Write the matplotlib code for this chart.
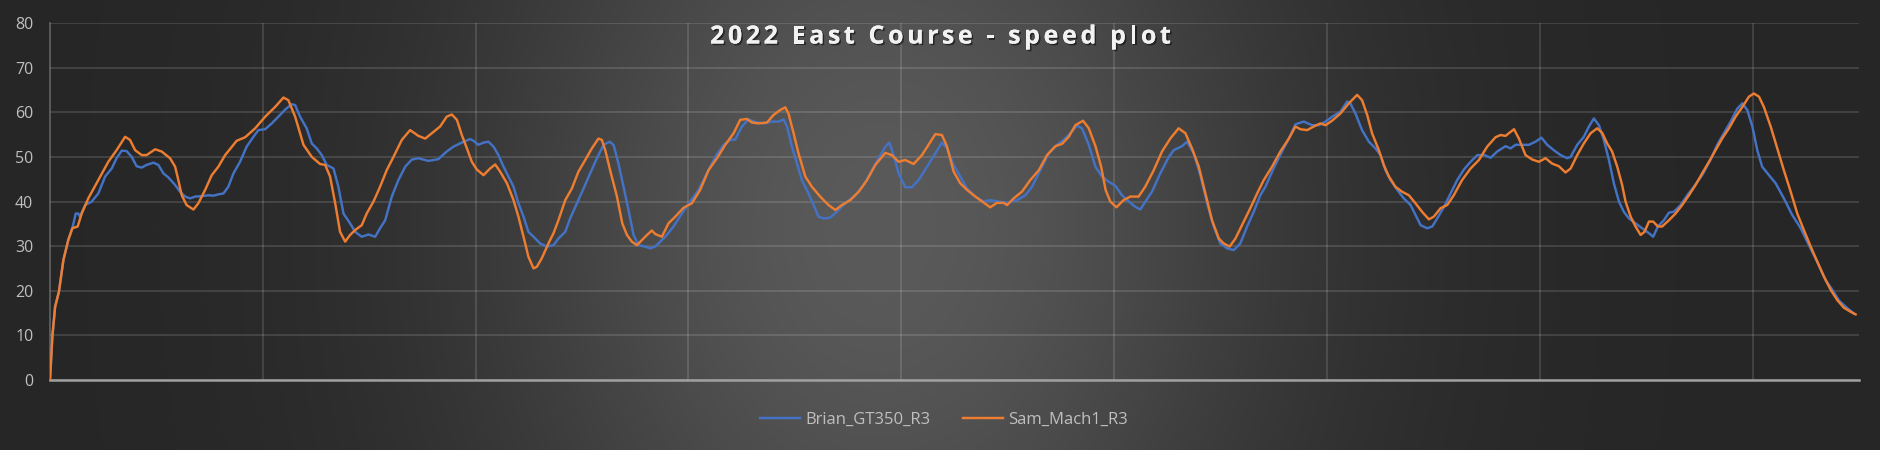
import numpy as np
import matplotlib
matplotlib.use("Agg")
import matplotlib.pyplot as plt
import matplotlib.patheffects as pe
from matplotlib.font_manager import FontProperties

# distance (sample index) and speed
sam_x = [0, 1.1, 2.4, 4.2, 6.3, 8.6, 10.5, 13.0, 14.9, 18.0, 22.7, 27.4, 31.3, 35.3, 37.6, 40.0, 43.1, 45.4,
         49.4, 52.5, 56.4, 58.8, 60.3, 61.9, 64.2, 67.4, 69.7, 72.9, 76.0, 79.1, 82.3, 87.7, 91.7, 96.4, 101.1,
         105.8, 109.7, 112.0, 115.2, 119.1, 123.0, 126.9, 129.3, 131.6, 134.0, 136.3, 138.7,
         141.0, 143.4, 146.5, 148.8, 152.0, 155.1, 158.2, 161.4, 165.3, 169.2, 173.1, 176.3, 179.4, 183.3,
         186.4, 188.8, 191.2, 193.5, 195.9, 198.2, 200.5, 203.7, 206.8, 209.2, 211.5, 214.7, 217.8, 220.1,
         222.5, 224.8, 227.2, 228.8, 231.1, 234.2, 236.6, 238.9, 242.1, 245.2, 248.3, 251.5, 254.6, 257.7,
         259.3, 260.9, 263.2, 266.4, 268.9, 271.1, 273.4, 275.8, 278.2, 280.5, 282.8,
         284.4, 287.5, 290.6, 293.8, 297.7, 301.6, 305.5, 309.4, 313.4, 317.3, 321.2, 324.3, 327.5, 329.8,
         332.9, 336.9, 340.0, 343.1, 345.5, 347.0, 349.4, 351.7, 354.9, 358.0, 361.9, 365.8, 369.0, 372.1,
         376.0, 380.0, 383.9, 387.8, 392.5, 395.6, 398.7, 401.9, 405.8, 409.7, 412.8, 416.0, 419.1, 421.5,
         424.6,
         427.7, 430.9, 434.0, 437.1, 440.3, 441.8, 444.9, 448.1, 449.7, 452.8, 456.7, 460.6, 464.6, 468.5,
         472.4, 475.5, 478.7, 481.8, 485.4, 488.1, 491.3, 493.9, 496.0, 498.2, 501.1, 504.4, 507.6, 511.5,
         514.6, 518.6, 522.5, 526.4, 530.3, 533.5, 536.6, 539.8, 542.9, 546.0, 549.2, 551.5, 554.3, 557.0,
         560.9, 564.0, 567.2, 570.3,
         574.2, 578.1, 582.1, 585.2, 587.5, 590.7, 593.8, 596.9, 599.3, 602.4, 606.3, 610.3, 614.2, 616.5,
         618.9, 621.2, 624.4, 626.7, 629.1, 632.2, 635.3, 638.5, 641.6, 644.7, 647.9, 650.2, 653.4, 656.5,
         659.6, 663.5, 667.5, 671.4, 675.3, 679.2, 681.6, 683.9, 687.9, 690.2, 693.3, 696.5, 699.6, 702.7,
         705.8, 709.0, 712.1, 714.5,
         717.6, 720.7, 723.9, 727.0, 729.3, 731.7, 734.0, 736.4, 738.7, 740.3, 742.7, 745.0, 747.4, 749.2,
         751.3, 753.3, 755.5, 757.5, 760.7, 763.8, 766.9, 770.1, 773.2, 776.3, 779.5, 782.6, 785.7, 788.9,
         792.0, 795.2, 798.3, 800.6, 803.0, 805.3, 808.5, 811.6, 814.7, 817.9, 821.0, 824.1, 827.3, 830.4,
         833.5, 836.7, 839.8, 842.9, 846.0, 848.4]
sam_v = [0, 9.7, 16.4, 19.8, 26.9, 31.4, 34.0, 34.4, 37.3, 40.7, 44.8, 48.9, 51.5, 54.5, 53.8, 51.5, 50.4, 50.4,
         51.7, 51.2, 49.7, 47.8, 44.8, 41.4, 39.2, 38.2, 39.6, 42.6, 45.9, 47.8, 50.4, 53.6, 54.4, 56.4, 59.0,
         61.2, 63.3, 62.7, 59.0, 52.7, 50.0, 48.4, 48.2, 45.6, 39.6, 33.2, 31.0,
         32.5, 33.6, 34.7, 37.3, 40.0, 43.3, 47.0, 50.0, 53.8, 56.0, 54.7, 54.1, 55.3, 56.8,
         59.0, 59.5, 58.3, 54.9, 51.9, 48.9, 47.2, 45.9, 47.4, 48.3, 46.7, 44.1, 40.3, 36.6,
         32.1, 27.6, 25.0, 25.4, 27.3, 30.6, 32.9, 35.8, 40.3, 42.9, 46.7, 49.3, 51.9, 54.1,
         53.8, 51.5, 47.0, 41.1, 35.1, 32.5, 31.0, 30.2, 31.4, 32.5, 33.5,
         32.7, 32.1, 35.1, 36.6, 38.6, 39.6, 42.6, 47.0, 49.7, 52.7, 55.3, 58.3, 58.5, 57.7,
         57.5, 57.7, 59.4, 60.5, 61.1, 59.7, 55.3, 50.8, 45.6, 43.3, 41.1, 39.2, 38.1, 39.2,
         40.3, 42.2, 44.8, 48.2, 50.9, 50.4, 48.9, 49.3, 48.4, 50.4, 52.7, 55.1, 54.9, 52.3,
         46.7,
         44.1, 42.6, 41.4, 40.3, 39.2, 38.7, 39.7, 39.7, 39.2, 40.7, 42.2, 44.8, 47.0, 50.4,
         52.4, 52.9, 54.5, 57.1, 58.1, 56.4, 52.3, 47.8, 42.6, 40.0, 38.7, 40.3, 41.1, 41.1,
         43.3, 47.0, 51.2, 54.1, 56.4, 55.3, 51.9, 47.8, 41.8, 35.8, 31.7, 30.6, 29.9, 31.7,
         35.5, 38.5, 41.8, 44.8,
         47.8, 51.2, 54.1, 56.8, 56.2, 56.0, 56.8, 57.5, 57.1, 58.1, 59.7, 62.0, 63.9, 62.7,
         59.4, 55.3, 51.5, 48.2, 45.6, 43.3, 42.2, 41.4, 39.6, 37.7, 36.0, 36.6, 38.5, 39.2,
         41.4, 44.8, 47.4, 49.3, 52.3, 54.4, 54.9, 54.7, 56.2, 54.1, 50.4, 49.4, 48.9, 49.7,
         48.5, 47.9, 46.5, 47.4,
         50.4, 53.0, 55.3, 56.4, 55.4, 53.0, 51.2, 47.8, 43.7, 40.0, 36.6, 34.4, 32.5, 33.2,
         35.5, 35.5, 34.4, 34.4, 35.8, 37.3, 39.2, 41.4, 43.7, 46.3, 48.9, 51.5, 54.1, 56.4,
         59.0, 61.2, 63.5, 64.2, 63.5, 61.2, 56.8, 51.9, 47.0, 42.2, 37.3, 33.6, 29.9, 26.5,
         23.2, 20.2, 17.9, 16.2, 15.3, 14.7]

brian_x = [0, 1.1, 2.4, 4.2, 6.3, 8.6, 10.5, 12.1, 13.3, 14.1, 16.5, 19.6, 22.7, 25.9, 29.0, 31.3, 33.7, 36.0,
           38.4, 40.7, 43.1, 45.4, 48.6, 50.9, 53.3, 55.6, 58.8, 61.1, 63.5, 65.8, 68.2, 71.3, 74.4, 76.8,
           79.1, 81.5, 83.8, 86.2, 89.3, 92.4, 95.6, 97.9, 101.1, 104.2, 107.3, 110.5, 113.6, 115.2, 117.5,
           120.6, 123.0, 125.3, 127.7, 130.0, 133.2, 135.5, 137.9,
           141.0, 143.4, 146.5, 149.6, 152.8, 155.1, 157.5, 160.6, 163.7, 166.9, 170.0, 173.1, 177.8, 182.5,
           186.4, 189.6, 193.5, 197.4, 199.0, 201.3, 203.7, 206.0, 208.4, 210.7, 213.1, 215.4, 217.8, 220.1,
           222.5, 224.8, 227.2, 230.3, 233.4, 236.6, 238.9, 242.1, 244.4, 247.6, 250.7, 253.8, 257.0, 260.1,
           262.9, 264.8, 267.1, 269.5, 271.8, 274.2, 276.5, 279.6, 282.0,
           284.4, 289.1, 293.0, 296.9, 300.8, 304.8, 308.7, 312.6, 316.5, 319.6, 322.0, 325.1, 328.2, 331.4,
           335.3, 339.2, 342.4, 344.7, 346.3, 348.6, 351.0, 353.3, 356.4, 358.8, 361.1, 363.5, 366.6, 369.7,
           373.7, 378.4, 382.3, 386.2, 389.3, 392.5, 394.4, 396.4, 398.7, 401.9, 405.0, 408.1, 412.1, 416.0,
           419.1, 421.5, 424.6,
           427.7, 430.9, 434.8, 438.7, 441.8, 445.7, 449.7, 454.4, 458.3, 461.4, 465.3, 469.3, 473.2, 476.3,
           479.4, 482.6, 484.9, 488.1, 491.2, 494.3, 497.5, 500.6, 503.7, 506.9, 510.0, 512.3, 514.7, 517.8,
           521.7, 525.7, 528.0, 531.9, 534.3, 537.4, 540.5, 543.7, 546.8, 549.9, 553.1, 556.2, 559.3, 562.5,
           565.6, 568.7,
           571.1, 574.9, 578.9, 582.1, 585.2, 589.1, 593.0, 596.2, 599.3, 602.4, 606.3, 609.5, 611.0, 613.4,
           616.5, 619.7, 622.8, 625.2, 627.5, 629.9, 633.0, 636.1, 639.3, 641.6, 644.0, 647.1, 649.5, 651.8,
           655.0, 658.1, 661.2, 664.4, 667.5, 670.7, 673.8, 676.9, 680.0, 683.9, 686.3, 688.6, 691.8, 694.9,
           698.0, 700.8, 703.5, 706.6, 709.8, 712.9,
           714.5, 717.6, 720.7, 723.1, 725.4, 727.8, 730.1, 732.5, 734.8, 737.2, 739.5, 741.9, 745.0, 748.1,
           751.3, 753.3, 755.5, 758.3, 760.7, 763.0, 766.2, 769.3, 772.4, 776.3, 780.2, 783.4, 786.5, 789.7,
           792.8, 795.2, 797.5, 799.9, 802.2, 804.5, 807.7, 810.8, 814.7, 818.6, 822.6, 826.5, 830.4, 834.3,
           837.5, 840.6, 844.5, 847.6]
brian_v = [0, 9.7, 16.4, 19.8, 26.9, 31.4, 34.0, 37.3, 37.3, 36.6, 39.2, 40.0, 41.8, 45.6, 47.4, 49.7, 51.4, 51.3,
           50.0, 47.9, 47.6, 48.2, 48.7, 48.2, 46.3, 45.4, 43.7, 42.2, 41.1, 40.7, 41.1, 41.2, 41.4, 41.3,
           41.6, 41.8, 43.3, 46.3, 48.9, 52.3, 54.5, 56.0, 56.2, 57.5, 59.0, 60.6, 61.8, 61.6, 59.0,
           56.4, 53.0, 51.9, 50.4, 48.2, 47.4, 43.3, 37.3,
           35.1, 33.2, 32.1, 32.6, 32.1, 34.0, 35.8, 41.1, 44.8, 47.8, 49.4, 49.7, 49.1, 49.5,
           51.2, 52.3, 53.2, 54.0, 53.6, 52.7, 53.2, 53.4, 52.3, 50.4, 47.8, 45.6, 43.3, 39.6,
           36.6, 33.2, 32.1, 30.6, 29.9, 30.2, 31.7, 33.2, 36.2, 39.6, 42.9, 46.3, 49.7, 52.7,
           53.4, 52.7, 48.5, 43.3, 38.1, 32.5, 30.2, 29.9, 29.5,
           29.9, 32.1, 34.4, 37.3, 40.0, 42.6, 46.3, 50.0, 52.7, 53.8, 53.9, 56.8, 58.4, 57.8,
           57.5, 57.9, 57.9, 58.4, 56.8, 52.3, 48.5, 44.8, 41.8, 39.2, 36.6, 36.2, 36.4, 37.7,
           39.6, 41.4, 43.7, 47.0, 49.7, 52.3, 53.2, 50.4, 46.3, 43.2, 43.2, 44.8, 47.8, 50.8,
           53.2, 51.9, 48.2,
           45.6, 42.9, 41.1, 40.0, 40.3, 40.0, 39.7, 40.3, 41.4, 43.3, 47.0, 50.8, 52.7, 53.8,
           55.3, 57.0, 56.4, 52.7, 47.8, 45.6, 44.4, 43.5, 41.4, 40.0, 38.8, 38.2, 40.0, 42.2,
           46.3, 50.0, 51.5, 52.4, 53.4, 50.8, 45.9, 39.6, 34.4, 30.6, 29.5, 29.1, 30.6, 34.4,
           37.7, 41.4,
           43.3, 47.4, 51.2, 54.1, 57.3, 57.9, 57.1, 57.1, 57.9, 59.0, 60.1, 62.4, 62.0, 59.7,
           56.0, 53.4, 51.9, 50.4, 47.0, 44.8, 42.6, 40.7, 39.2, 37.0, 34.7, 34.0, 34.4, 36.2,
           38.8, 41.8, 44.8, 47.2, 48.9, 50.4, 50.4, 49.8, 51.2, 52.4, 51.9, 52.7, 52.7, 52.7,
           53.4, 54.3, 52.7, 51.5, 50.4, 49.7,
           50.0, 52.7, 54.5, 56.8, 58.6, 57.1, 53.8, 49.3, 44.1, 40.0, 37.7, 36.2, 35.1, 34.0,
           32.9, 32.1, 34.4, 35.8, 37.5, 37.7, 39.2, 41.4, 43.3, 45.9, 49.3, 52.7, 55.3, 57.9,
           60.8, 62.0, 60.5, 56.8, 51.5, 47.8, 45.9, 44.1, 40.7, 37.0, 34.0, 30.2, 26.5, 22.4,
           20.2, 17.8, 16.1, 14.9]

title = "2022 East Course - speed plot"
series_names = ["Brian_GT350_R3", "Sam_Mach1_R3"]
y_ticks = [0, 10, 20, 30, 40, 50, 60, 70, 80]
x_grid = [100, 200, 300, 400, 500, 600, 700, 800]

W, H = 1881, 450
fig = plt.figure(figsize=(W / 100, H / 100), dpi=100)

# dark radial backdrop, lighter in the middle
bg = fig.add_axes([0, 0, 1, 1], zorder=-10)
gx, gy = np.meshgrid(np.arange(W), np.arange(H))
shade = 38 + 52 * np.exp(-(((gx - 880) / 400.0) ** 2 + ((gy - 225) / 520.0) ** 2))
bg.imshow(np.dstack([shade] * 3) / 255.0, aspect="auto", extent=[0, 1, 0, 1])
bg.axis("off")

ax = fig.add_axes([50 / W, 1 - 380 / H, 1809 / W, 357 / H])
ax.set_facecolor("none")

ax.plot(brian_x, brian_v, color="#4472C4", lw=1.75, label=series_names[0], zorder=3)
ax.plot(sam_x, sam_v, color="#ED7D31", lw=1.75, label=series_names[1], zorder=4)

ax.set_xlim(0, 850)
ax.set_ylim(0, 80)
ax.set_yticks(y_ticks)
ax.set_xticks(x_grid)
ax.set_xticklabels([])
ax.grid(True, color="white", alpha=0.16, lw=1.1)
ax.tick_params(axis="both", length=0, colors="#bfbfbf", labelsize=11.5, pad=12)
for lab in ax.get_yticklabels():
    lab.set_fontfamily("Open Sans")

for s in ["top", "right"]:
    ax.spines[s].set_visible(False)
ax.spines["left"].set_color((1, 1, 1, 0.28))
ax.spines["left"].set_linewidth(1.2)
ax.spines["bottom"].set_color("#a0a0a0")
ax.spines["bottom"].set_linewidth(1.8)

# title with extra letter spacing, placed char by char
tprop = FontProperties(family="Open Sans", weight="bold", size=18)
renderer = fig.canvas.get_renderer()
base = renderer.get_text_width_height_descent("aa", tprop, ismath=False)[0]
adv = [renderer.get_text_width_height_descent("a" + c + "a", tprop, ismath=False)[0] - base for c in title]
tracking = 3.6
total = sum(adv) + tracking * (len(title) - 1)
xpos = W / 2 - total / 2
shadow = [pe.withSimplePatchShadow(offset=(1.2, -1.2), shadow_rgbFace="black", alpha=0.5), pe.Normal()]
for c, a in zip(title, adv):
    fig.text(xpos / W, 1 - 37 / H, c, ha="left", va="center", color="#f2f2f2",
             fontproperties=tprop, path_effects=shadow)
    xpos += a + tracking

leg = fig.legend(loc="center", bbox_to_anchor=(944 / W, 1 - 420 / H), ncol=2, frameon=False,
                 handlelength=2.4, handletextpad=0.35, columnspacing=1.9,
                 prop={"family": "Open Sans", "size": 12})
for t in leg.get_texts():
    t.set_color("#bfbfbf")

fig.savefig("out.png", dpi=100)
